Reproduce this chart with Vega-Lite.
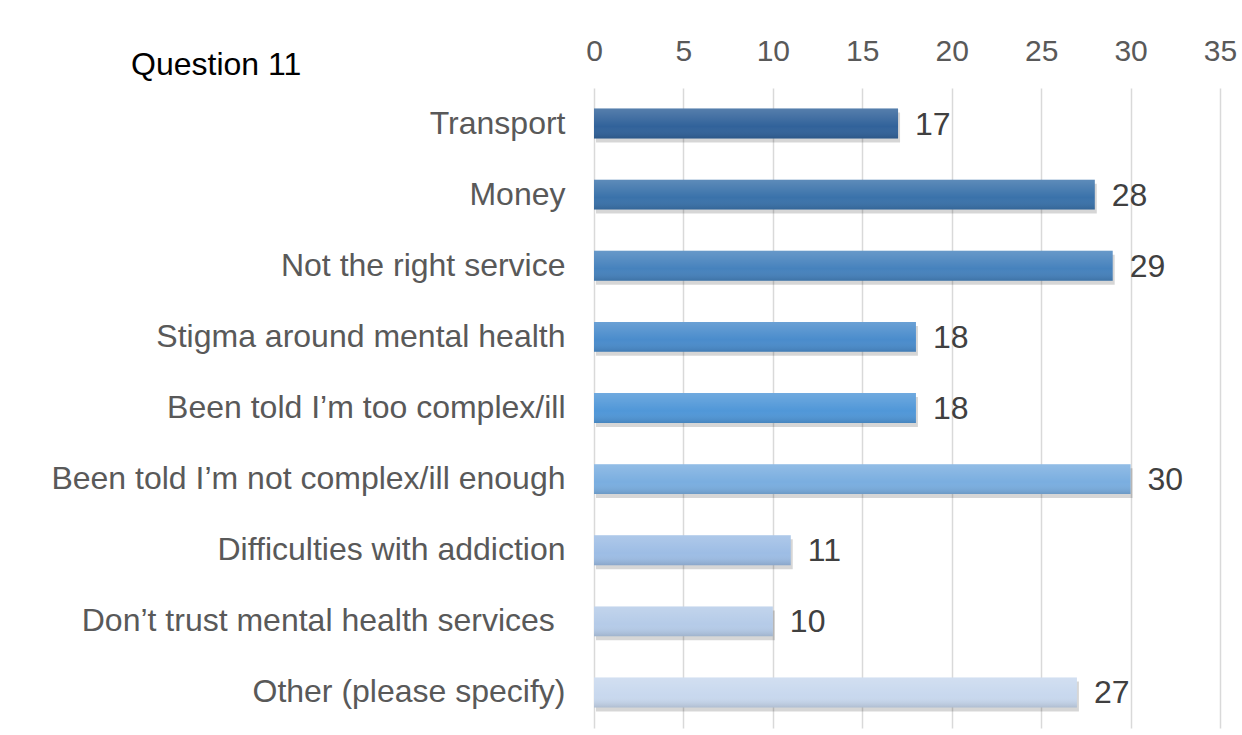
{
  "$schema": "https://vega.github.io/schema/vega-lite/v6.json",
  "width": 626,
  "height": 640,
  "autosize": {"type": "none"},
  "padding": {"left": 594, "top": 88, "right": 22, "bottom": 7},
  "background": "white",
  "title": {
    "text": "Question 11",
    "anchor": "start",
    "frame": "group",
    "dx": -463,
    "offset": -46,
    "font": "Liberation Sans",
    "fontSize": 32,
    "fontWeight": "normal",
    "color": "#000000"
  },
  "config": {
    "view": {"stroke": null},
    "font": "Liberation Sans"
  },
  "data": {
    "values": [
      {"reason": "Transport", "count": 17},
      {"reason": "Money", "count": 28},
      {"reason": "Not the right service", "count": 29},
      {"reason": "Stigma around mental health", "count": 18},
      {"reason": "Been told I’m too complex/ill", "count": 18},
      {"reason": "Been told I’m not complex/ill enough", "count": 30},
      {"reason": "Difficulties with addiction", "count": 11},
      {"reason": "Don’t trust mental health services\u2004\u200b", "count": 10},
      {"reason": "Other (please specify)", "count": 27}
    ]
  },
  "encoding": {
    "y": {
      "field": "reason",
      "type": "nominal",
      "sort": null,
      "scale": {"paddingInner": 0.58, "paddingOuter": 0.29},
      "axis": {
        "title": null,
        "domain": false,
        "ticks": false,
        "labelFontSize": 32,
        "labelColor": "#595959",
        "labelPadding": 29,
        "labelLimit": 700
      }
    },
    "x": {
      "field": "count",
      "type": "quantitative",
      "scale": {"domain": [0, 35], "nice": false},
      "axis": {
        "orient": "top",
        "title": null,
        "values": [0, 5, 10, 15, 20, 25, 30, 35],
        "domain": false,
        "ticks": false,
        "grid": true,
        "gridColor": "#d9d9d9",
        "gridWidth": 1.5,
        "labelFontSize": 30,
        "labelColor": "#595959",
        "labelPadding": 22,
        "labelFlush": false
      }
    }
  },
  "layer": [
    {
      "mark": {"type": "bar", "color": "#000000", "opacity": 0.16, "yOffset": 4, "xOffset": 2},
      "encoding": {}
    },
    {
      "mark": {"type": "bar"},
      "encoding": {
        "color": {
          "field": "reason",
          "type": "nominal",
          "sort": null,
          "legend": null,
          "scale": {
            "range": ["#31629a", "#3a72aa", "#4682bd", "#4a8ccc", "#5097d8", "#7aaee0", "#9dbde5", "#b5cbe8", "#c8d8ee"]
          }
        }
      }
    },
    {
      "mark": {
        "type": "bar",
        "fill": {
          "gradient": "linear",
          "x1": 0, "y1": 0, "x2": 0, "y2": 1,
          "stops": [
            {"offset": 0, "color": "rgba(255,255,255,0.18)"},
            {"offset": 0.6, "color": "rgba(255,255,255,0)"},
            {"offset": 1, "color": "rgba(0,0,0,0.12)"}
          ]
        }
      },
      "encoding": {}
    },
    {
      "mark": {"type": "text", "align": "left", "baseline": "middle", "dx": 17, "dy": 1, "fontSize": 32, "color": "#404040"},
      "encoding": {"text": {"field": "count", "type": "quantitative"}}
    }
  ]
}
